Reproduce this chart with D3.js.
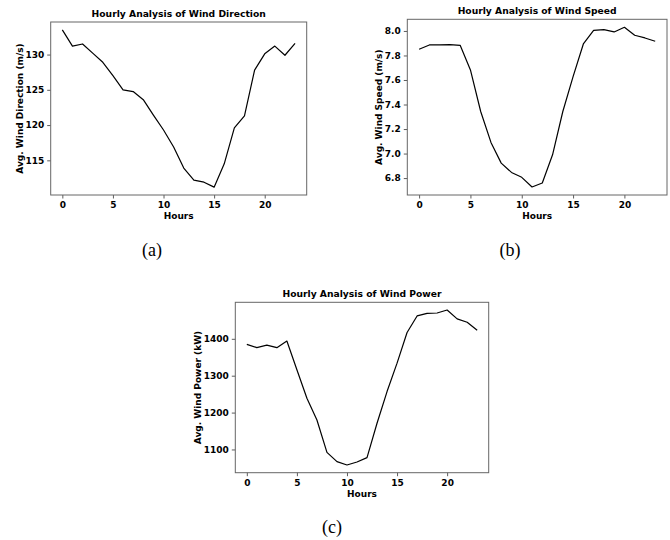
<!DOCTYPE html>
<html>
<head>
<meta charset="utf-8">
<script src="https://cdnjs.cloudflare.com/ajax/libs/d3/7.8.5/d3.min.js"></script>
<style>
    body { margin: 0; background: #fff; }
    svg text { font-family: "DejaVu Sans", sans-serif; font-weight: bold; fill: #000; }
    svg text.caption { font-family: "Liberation Serif", "Times New Roman", serif; font-weight: normal; }
</style>
</head>
<body>
<div id="fig"></div>
<script>
// hours of the day
let hours = [0, 1, 2, 3, 4, 5, 6, 7, 8, 9, 10, 11, 12, 13, 14, 15, 16, 17, 18, 19, 20, 21, 22, 23];

// values
let windDirection = [133.5, 131.2, 131.5, 130.2, 128.9, 127.0, 125.0, 124.75, 123.6, 121.4, 119.3, 116.9,
    113.9, 112.2, 111.9, 111.2, 114.5, 119.6, 121.3, 127.8, 130.1, 131.2, 129.9, 131.6];
let windSpeed = [7.851, 7.886, 7.886, 7.889, 7.883, 7.682, 7.343, 7.091, 6.922, 6.846, 6.806, 6.727,
    6.760, 6.990, 7.343, 7.628, 7.894, 8.005, 8.011, 7.992, 8.030, 7.965, 7.943, 7.916];
let windPower = [1385, 1376, 1383, 1376, 1394, 1316, 1239, 1180, 1092, 1067, 1058, 1066,
    1078, 1171, 1257, 1334, 1417, 1462, 1469, 1470, 1478, 1454, 1445, 1423];

let hourTicks = [0, 5, 10, 15, 20];
let directionTicks = [115, 120, 125, 130];
let speedTicks = [6.8, 7.0, 7.2, 7.4, 7.6, 7.8, 8.0];
let powerTicks = [1100, 1200, 1300, 1400];

let svg = d3.select("#fig").append("svg")
    .attr("width", 670)
    .attr("height", 540);

class LinePanel {
    constructor(box, values, yTicks, yFormat, title, yLabel, yLabelX, caption) {
        this.box = box;
        this.values = values;
        this.yTicks = yTicks;
        this.yFormat = yFormat;
        this.title = title;
        this.yLabel = yLabel;
        this.yLabelX = yLabelX;
        this.caption = caption;
        this.initVis();
    }

    initVis() {
        let vis = this;
        let b = vis.box;

        // matplotlib style 5% padding around the data
        let xPad = (d3.max(hours) - d3.min(hours)) * 0.05;
        let yExt = d3.extent(vis.values);
        let yPad = (yExt[1] - yExt[0]) * 0.05;

        vis.x = d3.scaleLinear()
            .domain([d3.min(hours) - xPad, d3.max(hours) + xPad])
            .range([b.left, b.right]);
        vis.y = d3.scaleLinear()
            .domain([yExt[0] - yPad, yExt[1] + yPad])
            .range([b.bottom, b.top]);

        vis.g = svg.append("g");

        // axes
        let xAxis = d3.axisBottom(vis.x).tickValues(hourTicks).tickSize(3.5).tickPadding(3);
        let yAxis = d3.axisLeft(vis.y).tickValues(vis.yTicks).tickSize(3.5).tickPadding(3).tickFormat(vis.yFormat);

        vis.g.append("g")
            .attr("transform", `translate(0,${b.bottom})`)
            .call(xAxis)
            .call(g => g.select(".domain").remove())
            .call(g => g.selectAll("text").attr("font-size", 9).attr("font-family", null));
        vis.g.append("g")
            .attr("transform", `translate(${b.left},0)`)
            .call(yAxis)
            .call(g => g.select(".domain").remove())
            .call(g => g.selectAll("text").attr("font-size", 9).attr("font-family", null));
        vis.g.selectAll(".tick line").attr("stroke", "#333").attr("stroke-width", 0.8);

        // line
        let line = d3.line()
            .x((d, i) => vis.x(hours[i]))
            .y(d => vis.y(d));
        vis.g.append("path")
            .datum(vis.values)
            .attr("fill", "none")
            .attr("stroke", "#000")
            .attr("stroke-width", 1.2)
            .attr("stroke-linejoin", "round")
            .attr("d", line);

        // frame
        vis.g.append("rect")
            .attr("x", b.left)
            .attr("y", b.top)
            .attr("width", b.right - b.left)
            .attr("height", b.bottom - b.top)
            .attr("fill", "none")
            .attr("stroke", "#666")
            .attr("stroke-width", 1);

        // texts
        let cx = (b.left + b.right) / 2;
        vis.g.append("text")
            .attr("x", cx)
            .attr("y", b.top - 5.5)
            .attr("text-anchor", "middle")
            .attr("font-size", 9.2)
            .text(vis.title);
        vis.g.append("text")
            .attr("x", cx)
            .attr("y", b.bottom + 24)
            .attr("text-anchor", "middle")
            .attr("font-size", 9)
            .text("Hours");
        vis.g.append("text")
            .attr("transform", `translate(${vis.yLabelX},${(b.top + b.bottom) / 2}) rotate(-90)`)
            .attr("dy", "0.35em")
            .attr("text-anchor", "middle")
            .attr("font-size", 9)
            .text(vis.yLabel);
        vis.g.append("text")
            .attr("class", "caption")
            .attr("x", vis.caption.x)
            .attr("y", vis.caption.y)
            .attr("text-anchor", "middle")
            .attr("font-size", 18)
            .text(vis.caption.text);
    }
}

new LinePanel({left: 50.7, right: 306.7, top: 22, bottom: 195}, windDirection, directionTicks, d3.format("d"),
    "Hourly Analysis of Wind Direction", "Avg. Wind Direction (m/s)", 19.5, {x: 152, y: 256, text: "(a)"});
new LinePanel({left: 407.3, right: 667, top: 19.3, bottom: 195}, windSpeed, speedTicks, d3.format(".1f"),
    "Hourly Analysis of Wind Speed", "Avg. Wind Speed (m/s)", 378.5, {x: 510, y: 256, text: "(b)"});
new LinePanel({left: 235.3, right: 488.7, top: 302.3, bottom: 472.7}, windPower, powerTicks, d3.format("d"),
    "Hourly Analysis of Wind Power", "Avg. Wind Power (kW)", 197.5, {x: 332, y: 533, text: "(c)"});
</script>
</body>
</html>
